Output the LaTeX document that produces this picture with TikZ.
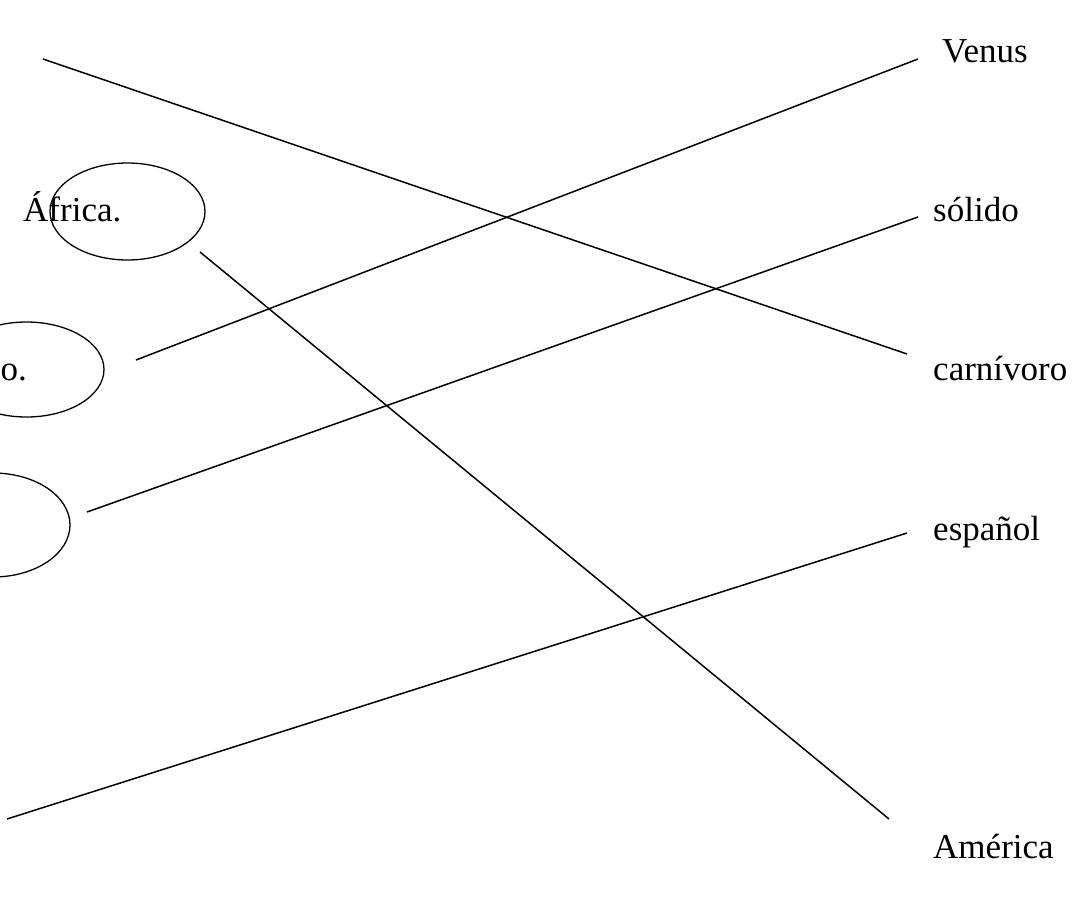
\documentclass[tikz,border=0pt]{standalone}
\usepackage{fontspec}
\setmainfont{Liberation Serif}
\usetikzlibrary{shapes.geometric}
\begin{document}
\begin{tikzpicture}[x=1pt,y=-1pt,
  lbl/.style={anchor=base west,inner sep=0pt,font=\fontsize{35}{41}\selectfont},
  oval/.style={draw,line width=1.3pt,ellipse,inner sep=0pt},
  conn/.style={line width=1.5pt}]
\useasboundingbox (0,0) rectangle (1079,897);
% labels right
\node[lbl] (venus) at (942,62) {Venus};
\node[lbl] (solido) at (933,221) {sólido};
\node[lbl] (carn) at (933,380) {carnívoro};
\node[lbl] (esp) at (933,540) {español};
\node[lbl] (amer) at (933,858) {América};
% labels left
\node[lbl] (africa) at (23,221) {África.};
\node[lbl,anchor=base east] (no) at (27,380) {no.};
% ellipses
\node[oval,minimum width=155pt,minimum height=97pt] (e1) at (127.5,211.5) {};
\node[oval,minimum width=155pt,minimum height=95pt] (e2) at (26.5,369.5) {};
\node[oval,minimum width=154pt,minimum height=104pt] (e3) at (-7,525) {};
% connector ends
\coordinate (a1) at (43,59);   \coordinate (b1) at (907,354);
\coordinate (a2) at (136,360); \coordinate (b2) at (918,59);
\coordinate (a3) at (87,512);  \coordinate (b3) at (918,217);
\coordinate (a4) at (7,819);   \coordinate (b4) at (907,533);
\coordinate (a5) at (200,252); \coordinate (b5) at (889,819);
\draw[conn] (a1) -- (b1);
\draw[conn] (a2) -- (b2);
\draw[conn] (a3) -- (b3);
\draw[conn] (a4) -- (b4);
\draw[conn] (a5) -- (b5);
\end{tikzpicture}
\end{document}
